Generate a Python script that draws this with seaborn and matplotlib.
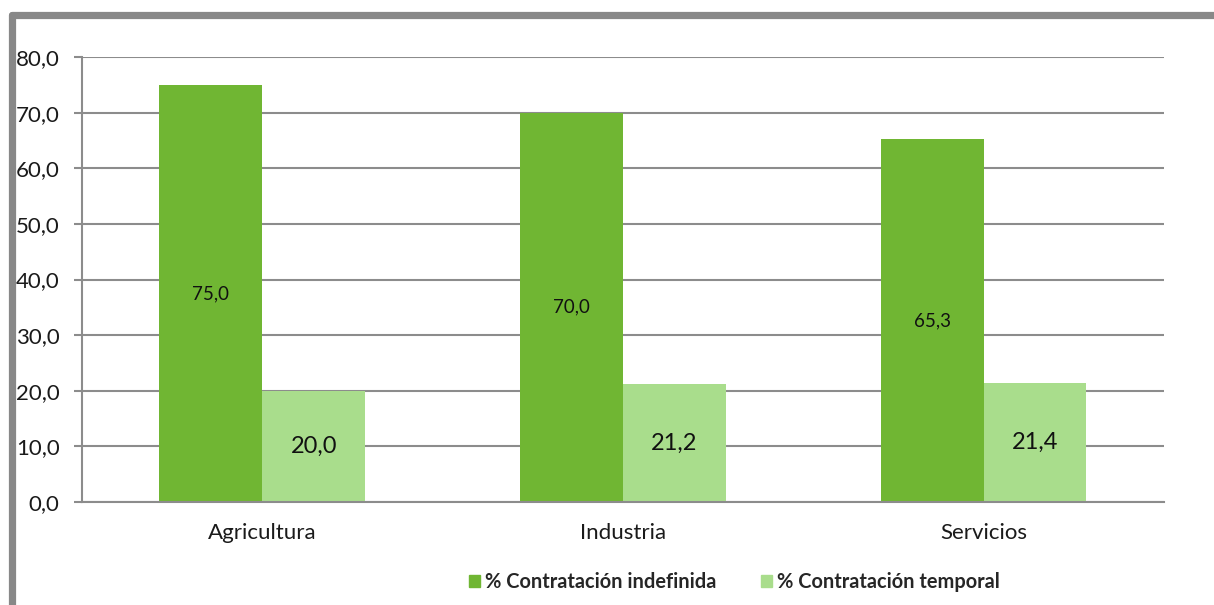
import matplotlib
matplotlib.use("Agg")
import matplotlib.pyplot as plt
import seaborn as sns
import pandas as pd
from matplotlib.lines import Line2D

categories = ["Agricultura", "Industria", "Servicios"]
series_names = ["% Contratación indefinida", "% Contratación temporal"]
indefinida = [75.0, 70.0, 65.3]
temporal = [20.0, 21.2, 21.4]
yticks = [0, 10, 20, 30, 40, 50, 60, 70, 80]

colors = ["#70b633", "#a9dd8c"]
grid_c = "#8c8c8c"

df = pd.DataFrame({
    "cat": categories * 2,
    "serie": [series_names[0]] * 3 + [series_names[1]] * 3,
    "val": indefinida + temporal,
})

sns.set_theme(style="white")
plt.rcParams["font.family"] = ["Lato", "DejaVu Sans"]

fig = plt.figure(figsize=(12.14, 6.05), dpi=100)
ax = fig.add_axes([0.0675, 0.1702, 0.8913, 0.7356])

sns.barplot(data=df, x="cat", y="val", hue="serie", palette=colors,
            width=0.57, saturation=1, ax=ax, legend=True, errorbar=None)
for p in ax.patches:
    p.set_linewidth(0)

ax.set_ylim(0, 80)
ax.set_xlim(-0.5, 2.5)
ax.set_yticks(yticks)
ax.set_yticklabels([f"{v:.1f}".replace(".", ",") for v in yticks], fontsize=16, color="#1a1a1a")
ax.yaxis.grid(True, color=grid_c, linewidth=1.5)
ax.set_axisbelow(True)
ax.set_xlabel("")
ax.set_ylabel("")
ax.tick_params(axis="x", which="major", length=0, labelsize=16, pad=15, labelcolor="#1a1a1a")
ax.set_xticks([-0.5, 0.5, 1.5, 2.5], minor=True)
ax.tick_params(axis="x", which="minor", length=8, width=1.5, color=grid_c, direction="out")
ax.tick_params(axis="y", length=6, width=1.5, color=grid_c, direction="out", left=True, pad=10)
for s in ["top", "right"]:
    ax.spines[s].set_visible(False)
for s in ["left", "bottom"]:
    ax.spines[s].set_color(grid_c)
    ax.spines[s].set_linewidth(1.5)

# value labels
conts = ax.containers
ax.bar_label(conts[0], labels=[f"{v:.1f}".replace(".", ",") for v in indefinida],
             label_type="center", fontsize=13.5, color="#111111")
ax.bar_label(conts[1], labels=[f"{v:.1f}".replace(".", ",") for v in temporal],
             label_type="center", fontsize=17, color="#111111")

leg = ax.get_legend()
if leg is not None:
    leg.remove()
handles = [plt.Rectangle((0, 0), 1, 1, color=c) for c in colors]
fig.legend(handles, series_names, loc="center", bbox_to_anchor=(0.605, 0.038),
           ncol=2, frameon=False, prop={"weight": "bold", "size": 14.4},
           handlelength=0.55, handleheight=0.55, handletextpad=0.25, columnspacing=2.2)

# outer frame (gray border on top and left)
fig.add_artist(Line2D([11.5 / 1214, 1.0], [1 - 14.5 / 605, 1 - 14.5 / 605],
                      transform=fig.transFigure, color="#888888", linewidth=5.2,
                      solid_capstyle="round"))
fig.add_artist(Line2D([11.5 / 1214, 11.5 / 1214], [1 - 14.5 / 605, 0.0],
                      transform=fig.transFigure, color="#888888", linewidth=5.2,
                      solid_capstyle="round"))

fig.savefig("out.png", dpi=100, facecolor="white")
